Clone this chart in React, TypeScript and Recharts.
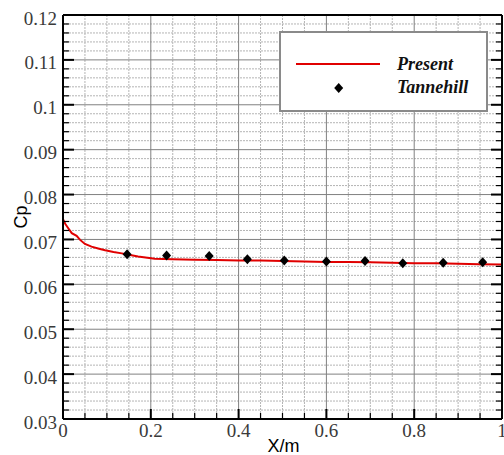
import React from 'react';
import { ComposedChart, Line, Scatter, XAxis, YAxis, CartesianGrid } from 'recharts';

// Present (red line) — X/m and Cp
const presentX = [0, 0.005, 0.012, 0.02, 0.031, 0.039, 0.05, 0.065, 0.08, 0.096, 0.115, 0.134, 0.15, 0.171, 0.209, 0.25, 0.3, 0.35, 0.4, 0.45, 0.5, 0.55, 0.6, 0.65, 0.7, 0.75, 0.8, 0.85, 0.9, 0.95, 1.0];
const presentCp = [0.0745, 0.0735, 0.0725, 0.0714, 0.0708, 0.0699, 0.069, 0.0684, 0.068, 0.0676, 0.0672, 0.0669, 0.0666, 0.0662, 0.0657, 0.0656, 0.0655, 0.0654, 0.0653, 0.0653, 0.0652, 0.0651, 0.065, 0.065, 0.0649, 0.0648, 0.0647, 0.0647, 0.0646, 0.0645, 0.0644];

// Tannehill (diamonds)
const tannehillX = [0.146, 0.236, 0.333, 0.42, 0.504, 0.6, 0.688, 0.774, 0.866, 0.956];
const tannehillCp = [0.0667, 0.0664, 0.0663, 0.0656, 0.0653, 0.0651, 0.0652, 0.0647, 0.0648, 0.0649];

const seriesNames = ['Present', 'Tannehill'];
const xAxisTitle = 'X/m';
const yAxisTitle = 'Cp';

const xMajorTicks = [0, 0.2, 0.4, 0.6, 0.8, 1];
const yMajorTicks = [0.03, 0.04, 0.05, 0.06, 0.07, 0.08, 0.09, 0.1, 0.11, 0.12];
const xMinorStep = 0.05;
const yMinorStep = 0.002;

const round = (v: number) => Number(v.toFixed(4));
const xAllTicks = Array.from({ length: Math.round(1 / xMinorStep) + 1 }, (_, i) => round(i * xMinorStep));
const yAllTicks = Array.from({ length: Math.round(0.09 / yMinorStep) + 1 }, (_, i) => round(0.03 + i * yMinorStep));
const xMinorOnly = xAllTicks.filter((v) => !xMajorTicks.some((m) => Math.abs(m - v) < 1e-9));
const yMinorOnly = yAllTicks.filter((v) => !yMajorTicks.some((m) => Math.abs(m - v) < 1e-9));

const presentData = presentX.map((x, i) => ({ x, cp: presentCp[i] }));
const tannehillData = tannehillX.map((x, i) => ({ x, cp: tannehillCp[i] }));

const isMajor = (v: number, majors: number[]) => majors.some((m) => Math.abs(m - v) < 1e-9);
const fmt = (v: number) => String(Number(v.toFixed(3)));

const SERIF = 'Liberation Serif';
const SANS = 'Liberation Sans';

function renderBottomTick(props: any) {
  const { x, y, payload, index } = props;
  const major = isMajor(payload.value, xMajorTicks);
  return (
    <g key={`bt-${index}`}>
      <line x1={x} y1={y} x2={x} y2={y - (major ? 10 : 6)} stroke="#000" strokeWidth={major ? 2 : 1.2} />
      {major && (
        <text x={x} y={y + 18} textAnchor="middle" fontFamily={SERIF} fontSize={19} fill="#3a3a3a">
          {fmt(payload.value)}
        </text>
      )}
    </g>
  );
}

function renderTopTick(props: any) {
  const { x, y, payload, index } = props;
  const major = isMajor(payload.value, xMajorTicks);
  return <line key={`tt-${index}`} x1={x} y1={y} x2={x} y2={y + (major ? 10 : 6)} stroke="#000" strokeWidth={major ? 2 : 1.2} />;
}

function renderLeftTick(props: any) {
  const { x, y, payload, index } = props;
  const major = isMajor(payload.value, yMajorTicks);
  return (
    <g key={`lt-${index}`}>
      <line x1={x} y1={y} x2={x + (major ? 11 : 6)} y2={y} stroke="#000" strokeWidth={major ? 2 : 1.2} />
      {major && (
        <text x={x - 6} y={y + 9.5} textAnchor="end" fontFamily={SERIF} fontSize={19} fill="#3a3a3a">
          {fmt(payload.value)}
        </text>
      )}
    </g>
  );
}

function renderRightTick(props: any) {
  const { x, y, payload, index } = props;
  const major = isMajor(payload.value, yMajorTicks);
  return <line key={`rt-${index}`} x1={x} y1={y} x2={x - (major ? 11 : 6)} y2={y} stroke="#000" strokeWidth={major ? 2 : 1.2} />;
}

const Diamond = (props: any) => {
  const { cx, cy } = props;
  if (cx == null || cy == null) return null;
  return <polygon points={`${cx},${cy - 5} ${cx + 4.5},${cy} ${cx},${cy + 5} ${cx - 4.5},${cy}`} fill="#000" />;
};

export default function App() {
  return (
    <div style={{ position: 'absolute', left: 0, top: 0, width: 504, height: 455, background: '#fff' }}>
      <ComposedChart width={504} height={455} margin={{ top: 14, right: 1, bottom: 35, left: 62 }}>
        <CartesianGrid
          horizontalValues={yMinorOnly}
          verticalValues={xMinorOnly}
          stroke="#b4b4b4"
          strokeDasharray="2 1"
          strokeWidth={1}
        />
        <CartesianGrid
          horizontalValues={yMajorTicks}
          verticalValues={xMajorTicks}
          stroke="#808080"
          strokeWidth={1}
        />
        <XAxis
          xAxisId={0}
          type="number"
          dataKey="x"
          domain={[0, 1]}
          ticks={xAllTicks}
          interval={0}
          allowDataOverflow
          height={1}
          tickSize={0}
          tickMargin={0}
          tickLine={false}
          axisLine={{ stroke: '#000', strokeWidth: 2 }}
          tick={renderBottomTick}
        />
        <XAxis
          xAxisId="top"
          orientation="top"
          type="number"
          domain={[0, 1]}
          ticks={xAllTicks}
          interval={0}
          allowDataOverflow
          height={1}
          tickSize={0}
          tickMargin={0}
          tickLine={false}
          axisLine={{ stroke: '#000', strokeWidth: 2 }}
          tick={renderTopTick}
        />
        <YAxis
          yAxisId={0}
          type="number"
          domain={[0.03, 0.12]}
          ticks={yAllTicks}
          interval={0}
          allowDataOverflow
          width={1}
          tickSize={0}
          tickMargin={0}
          tickLine={false}
          axisLine={{ stroke: '#000', strokeWidth: 2 }}
          tick={renderLeftTick}
        />
        <YAxis
          yAxisId="right"
          orientation="right"
          type="number"
          domain={[0.03, 0.12]}
          ticks={yAllTicks}
          interval={0}
          allowDataOverflow
          width={1}
          tickSize={0}
          tickMargin={0}
          tickLine={false}
          axisLine={{ stroke: '#000', strokeWidth: 2 }}
          tick={renderRightTick}
        />
        <Line
          data={presentData}
          dataKey="cp"
          name={seriesNames[0]}
          type="linear"
          stroke="#e00000"
          strokeWidth={2}
          dot={false}
          activeDot={false}
          isAnimationActive={false}
        />
        <Scatter
          data={tannehillData}
          dataKey="cp"
          name={seriesNames[1]}
          fill="#000"
          shape={<Diamond />}
          isAnimationActive={false}
        />
      </ComposedChart>

      <svg width={504} height={455} style={{ position: 'absolute', left: 0, top: 0, pointerEvents: 'none' }}>
        <text transform="translate(27,217) rotate(-90)" textAnchor="middle" fontFamily={SANS} fontSize={18} fill="#000">
          {yAxisTitle}
        </text>
        <text x={283.5} y={452} textAnchor="middle" fontFamily={SANS} fontSize={18} fill="#000">
          {xAxisTitle}
        </text>
      </svg>

      <div
        style={{
          position: 'absolute',
          left: 279,
          top: 31,
          width: 209,
          height: 81,
          boxSizing: 'border-box',
          border: '2px solid #8a8a8a',
          background: '#fff',
        }}
      >
        <svg width={205} height={77} style={{ display: 'block' }}>
          <line x1={15} y1={31} x2={99} y2={31} stroke="#e00000" strokeWidth={2} />
          <polygon points="57.7,50 62.2,55 57.7,60 53.2,55" fill="#000" />
          <text x={116} y={37} fontFamily={SERIF} fontSize={18} fontStyle="italic" fontWeight="bold" fill="#111">
            {seriesNames[0]}
          </text>
          <text x={116} y={60} fontFamily={SERIF} fontSize={18} fontStyle="italic" fontWeight="bold" fill="#111">
            {seriesNames[1]}
          </text>
        </svg>
      </div>
    </div>
  );
}
